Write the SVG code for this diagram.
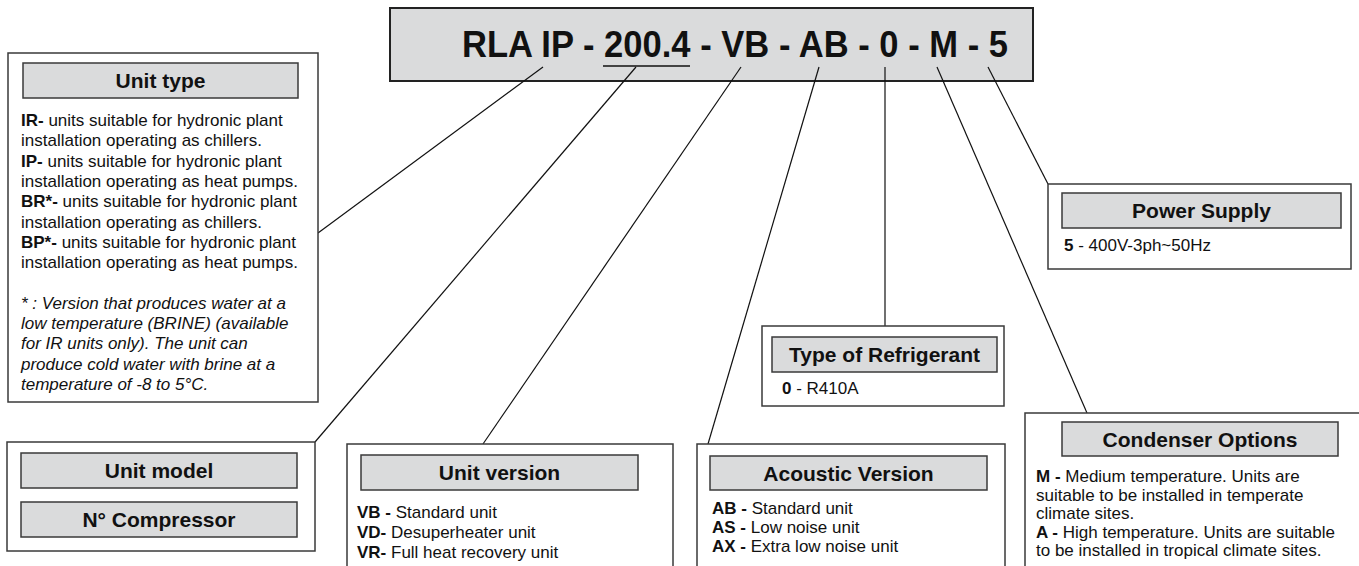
<svg xmlns="http://www.w3.org/2000/svg" width="1359" height="566" viewBox="0 0 1359 566">
<style>
.box{fill:#fff;stroke:#3a3a3a;stroke-width:1.5}
.hdr{fill:#dadbdc;stroke:#3a3a3a;stroke-width:1.5}
.ht{font-family:"Liberation Sans",Arial,sans-serif;font-weight:bold;font-size:21px;text-anchor:middle;fill:#111}
.bt{font-family:"Liberation Sans",Arial,sans-serif;font-size:17px;fill:#111}
.b{font-weight:bold}
.it{font-style:italic}
.conn line{stroke:#111;stroke-width:1.2}
</style>
<rect width="1359" height="566" fill="#fff"/>
<g id="title">
<rect x="390" y="8" width="643" height="73" fill="#dadbdc" stroke="#222" stroke-width="2"/>
<text x="462" y="57" font-family="Liberation Sans,Arial,sans-serif" font-weight="bold" font-size="37" fill="#111" textLength="546" lengthAdjust="spacingAndGlyphs">RLA IP - 200.4 - VB - AB - 0 - M - 5</text>
<line x1="603" y1="66" x2="690" y2="66" stroke="#111" stroke-width="1.5"/>
</g>
<g class="conn" id="connectors">
<line x1="543" y1="67" x2="318" y2="233"/>
<line x1="636" y1="67" x2="315" y2="442"/>
<line x1="741" y1="67" x2="483" y2="444"/>
<line x1="819" y1="67" x2="708" y2="444"/>
<line x1="885" y1="67" x2="885" y2="326"/>
<line x1="937" y1="67" x2="1087" y2="413"/>
<line x1="988" y1="67" x2="1048" y2="184"/>
</g>
<g id="unit-type">
<rect class="box" x="8" y="53" width="310" height="349"/>
<rect class="hdr" x="23" y="63" width="275" height="35"/>
<text class="ht" x="160.5" y="88">Unit type</text>
<text class="bt" x="21" y="126"><tspan class="b">IR-</tspan> units suitable for hydronic plant</text>
<text class="bt" x="21" y="146.3">installation operating as chillers.</text>
<text class="bt" x="21" y="166.6"><tspan class="b">IP-</tspan> units suitable for hydronic plant</text>
<text class="bt" x="21" y="186.9">installation operating as heat pumps.</text>
<text class="bt" x="21" y="207.2"><tspan class="b">BR*-</tspan> units suitable for hydronic plant</text>
<text class="bt" x="21" y="227.5">installation operating as chillers.</text>
<text class="bt" x="21" y="247.8"><tspan class="b">BP*-</tspan> units suitable for hydronic plant</text>
<text class="bt" x="21" y="268.1">installation operating as heat pumps.</text>
<text class="bt it" x="21" y="308.7">* : Version that produces water at a</text>
<text class="bt it" x="21" y="329">low temperature (BRINE) (available</text>
<text class="bt it" x="21" y="349.3">for IR units only). The unit can</text>
<text class="bt it" x="21" y="369.6">produce cold water with brine at a</text>
<text class="bt it" x="21" y="389.9">temperature of -8 to 5°C.</text>
</g>
<g id="unit-model">
<rect class="box" x="7" y="442" width="308" height="109"/>
<rect class="hdr" x="21" y="453" width="276" height="35"/>
<text class="ht" x="159" y="478">Unit model</text>
<rect class="hdr" x="21" y="502" width="276" height="35"/>
<text class="ht" x="159" y="527">N° Compressor</text>
</g>
<g id="unit-version">
<rect class="box" x="347" y="444" width="326" height="140"/>
<rect class="hdr" x="361" y="455" width="277" height="35"/>
<text class="ht" x="499.5" y="480">Unit version</text>
<text class="bt" x="357" y="518"><tspan class="b">VB -</tspan> Standard unit</text>
<text class="bt" x="357" y="538"><tspan class="b">VD-</tspan> Desuperheater unit</text>
<text class="bt" x="357" y="558"><tspan class="b">VR-</tspan> Full heat recovery unit</text>
</g>
<g id="acoustic-version">
<rect class="box" x="697" y="444" width="308" height="140"/>
<rect class="hdr" x="710" y="456" width="277" height="34"/>
<text class="ht" x="848.5" y="481">Acoustic Version</text>
<text class="bt" x="712" y="514"><tspan class="b">AB -</tspan> Standard unit</text>
<text class="bt" x="712" y="533"><tspan class="b">AS -</tspan> Low noise unit</text>
<text class="bt" x="712" y="552"><tspan class="b">AX -</tspan> Extra low noise unit</text>
</g>
<g id="refrigerant">
<rect class="box" x="762" y="326" width="242" height="80"/>
<rect class="hdr" x="772" y="337" width="225" height="35"/>
<text class="ht" x="884.5" y="362">Type of Refrigerant</text>
<text class="bt" x="782" y="394"><tspan class="b">0</tspan> - R410A</text>
</g>
<g id="power-supply">
<rect class="box" x="1048" y="184" width="303" height="85"/>
<rect class="hdr" x="1062" y="193" width="279" height="35"/>
<text class="ht" x="1201.5" y="218">Power Supply</text>
<text class="bt" x="1064" y="251"><tspan class="b">5</tspan> - 400V-3ph~50Hz</text>
</g>
<g id="condenser-options">
<rect class="box" x="1025" y="413" width="340" height="170"/>
<rect class="hdr" x="1062" y="422" width="276" height="34"/>
<text class="ht" x="1200" y="447">Condenser Options</text>
<text class="bt" x="1036" y="482"><tspan class="b">M -</tspan> Medium temperature. Units are</text>
<text class="bt" x="1036" y="500.5">suitable to be installed in temperate</text>
<text class="bt" x="1036" y="519">climate sites.</text>
<text class="bt" x="1036" y="537.5"><tspan class="b">A -</tspan> High temperature. Units are suitable</text>
<text class="bt" x="1036" y="556">to be installed in tropical climate sites.</text>
</g>
</svg>
